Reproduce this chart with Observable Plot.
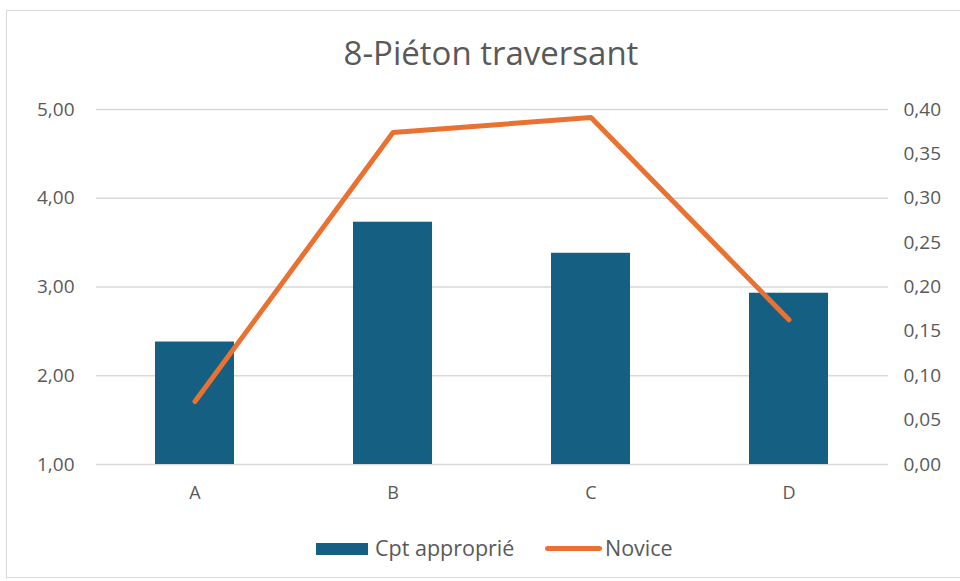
<!DOCTYPE html>
<html>
<head>
<meta charset="utf-8">
<script src="https://cdn.jsdelivr.net/npm/d3@7"></script>
<script src="https://cdn.jsdelivr.net/npm/@observablehq/plot@0.6"></script>
<style>
  html, body { margin: 0; padding: 0; background: #fff; }
  body { width: 960px; height: 581px; position: relative; overflow: hidden; font-family: "Open Sans", Lato, sans-serif; }
  #frame { position: absolute; left: 6px; top: 10px; width: 960px; height: 568px; border: 1px solid #D9D9D9; box-sizing: border-box; }
  #title { position: absolute; left: 0; width: 982px; top: 31px; text-align: center; font-size: 33px; line-height: 1.362; color: #595959; }
  #chart { position: absolute; left: 0; top: 80px; }
  .leg { position: absolute; color: #595959; font-size: 21.5px; line-height: 1; }
  .sw-bar { position: absolute; left: 316px; top: 543px; width: 52px; height: 12px; background: #156082; }
  .sw-line { position: absolute; left: 545px; top: 546px; width: 57px; height: 5px; background: #E97132; border-radius: 2.5px; }
</style>
</head>
<body>
<div id="frame"></div>
<div id="title">8-Piéton traversant</div>
<div id="chart"></div>
<div class="sw-bar"></div>
<div class="leg" style="left:375px; top:537px;">Cpt approprié</div>
<div class="sw-line"></div>
<div class="leg" style="left:605px; top:537px;">Novice</div>
<script>
const categories = ["A", "B", "C", "D"];
const cptApproprie = [2.38, 3.73, 3.38, 2.93];
const novice = [0.071, 0.374, 0.391, 0.163];
const leftTicks = [1, 2, 3, 4, 5];
const rightTicks = [0, 0.05, 0.10, 0.15, 0.20, 0.25, 0.30, 0.35, 0.40];

const fmt = v => d3.format(".2f")(v).replace(".", ",");
const toLeft = v => 1 + v * 10; // right axis 0..0.40 maps onto left 1..5

const data = categories.map((c, i) => ({cat: c, bar: cptApproprie[i], line: novice[i]}));

const chart = Plot.plot({
  width: 960,
  height: 440,
  marginLeft: 96,
  marginRight: 72,
  marginTop: 29,
  marginBottom: 56,
  style: {fontFamily: "'Open Sans', Lato, sans-serif", fontSize: "19px", color: "#595959", background: "transparent"},
  x: {domain: categories, paddingInner: 0.6, paddingOuter: 0.3, label: null},
  y: {domain: [1, 5], label: null},
  marks: [
    Plot.ruleY(leftTicks, {stroke: "#D9D9D9", strokeWidth: 1.5}),
    Plot.axisY(leftTicks, {anchor: "left", tickSize: 0, tickPadding: 22, tickFormat: fmt, fontSize: 19, fill: "#595959", label: null}),
    Plot.axisY(rightTicks.map(toLeft), {anchor: "right", tickSize: 0, tickPadding: 15, tickFormat: d => fmt((d - 1) / 10), fontSize: 19, fill: "#595959", label: null}),
    Plot.axisX({tickSize: 0, tickPadding: 22, fontSize: 18, fill: "#595959", label: null}),
    Plot.barY(data, {x: "cat", y1: 1, y2: "bar", fill: "#156082"}),
    Plot.line(data, {x: "cat", y: d => toLeft(d.line), stroke: "#E97132", strokeWidth: 5, strokeLinecap: "round", strokeLinejoin: "round"})
  ]
});
document.getElementById("chart").appendChild(chart);
</script>
</body>
</html>
